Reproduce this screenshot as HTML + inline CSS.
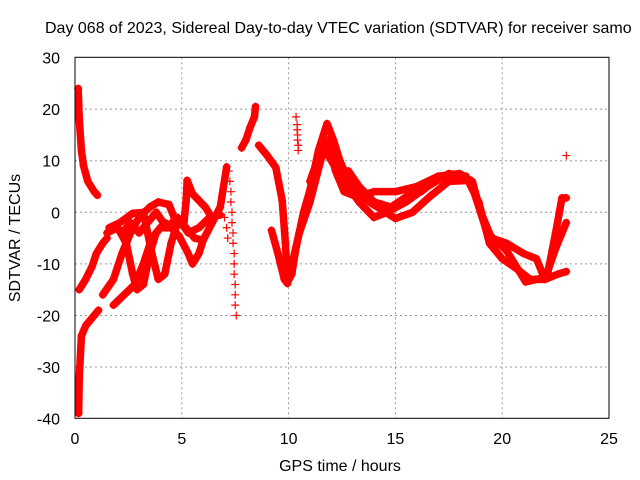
<!DOCTYPE html>
<html><head><meta charset="utf-8"><style>
body{margin:0;background:#fff;}
svg{display:block;font-family:"Liberation Sans",sans-serif;}
</style></head><body>
<svg id="chart" width="640" height="480" viewBox="0 0 640 480" xmlns="http://www.w3.org/2000/svg">
<rect width="640" height="480" fill="#fff"/>
<text x="45" y="33" font-size="16" fill="#000">Day 068 of 2023, Sidereal Day-to-day VTEC variation (SDTVAR) for receiver samo</text>
<text transform="translate(20,238) rotate(-90)" font-size="16" text-anchor="middle">SDTVAR / TECUs</text>
<text x="340" y="471" font-size="16" text-anchor="middle">GPS time / hours</text>
<g id="grid"></g><g id="ticks"></g><g id="marks"></g>
<rect x="75" y="57.3" width="534" height="361" fill="none" stroke="#000" stroke-width="1"/>
</svg>
<script>
const xTicks=[0,5,10,15,20,25];
const yTicks=[-40,-30,-20,-10,0,10,20,30];
const traceA=[[0.15,24],[0.2,18],[0.3,12],[0.4,9],[0.6,6],[0.9,4],[1.05,3.3]];
const traceB=[[0.17,-39],[0.2,-32],[0.3,-24],[0.5,-22],[0.8,-20.5],[1.1,-19]];
const traceC=[[0.2,-15],[0.5,-13],[0.8,-10.5],[1.0,-8],[1.3,-6],[1.5,-5]];
const traceD=[[1.3,-16],[1.8,-13],[2.2,-8],[2.6,-4],[3.0,-1],[3.5,1],[3.9,2],[4.4,1.5],[4.7,-1.6],[5.2,-3],[5.6,-5],[6.0,-5.4],[6.4,-2.2],[6.8,1],[7.1,8.8]];
const traceE=[[1.8,-18],[2.3,-16],[2.8,-14],[3.2,-10],[3.6,-5],[4.0,-3],[4.5,-3],[4.9,-4.8],[5.3,-8],[5.5,-10],[5.8,-8],[6.0,-5.4]];
const traceF=[[1.5,-4],[2.0,-3],[2.4,-6],[2.7,-12],[2.9,-15],[3.2,-14],[3.5,-8],[3.8,-4],[4.2,-2],[4.6,-3]];
const traceG=[[1.6,-3],[2.1,-2],[2.7,-0.2],[3.2,0],[3.6,-8],[3.9,-13],[4.2,-12],[4.5,-6],[4.8,-2],[5.1,-2],[5.2,2],[5.25,6.2],[5.5,3.6],[6.1,1],[6.4,-1],[6.8,-0.5]];
const traceH=[[2.2,-4],[2.6,-2],[3.0,-4],[3.4,-2],[3.8,0],[4.3,-3],[4.8,-1],[5.3,-4],[5.8,-3],[6.3,-1]];
const traceI=[[7.2,8],[7.25,6],[7.3,4],[7.3,2],[7.35,0],[7.35,-2],[7.4,-4],[7.4,-6],[7.45,-8],[7.45,-10],[7.45,-12],[7.5,-14],[7.5,-16],[7.5,-18],[7.55,-20],[7.0,-1],[7.1,-3],[7.15,-5]];
const traceJ=[[7.8,12.5],[8.0,14],[8.2,16.5],[8.4,18.5],[8.45,20.5]];
const traceK=[[8.6,13],[9.0,11],[9.4,8.7],[9.7,2.3],[9.85,-6],[9.95,-13.5],[10.15,-12],[10.35,-6.8],[10.7,0],[11.0,4.3],[11.4,12],[11.8,17.2],[12.1,14],[12.4,10],[13.0,4.3],[13.9,1.7],[15.0,-1.2],[15.8,0],[16.6,3],[17.5,6],[18.5,6.2],[19.3,-4],[20.2,-7.4],[21.1,-13.5],[22.1,-12.5],[22.5,-4],[22.8,2.8],[23.0,2.8]];
const traceL=[[9.2,-3.5],[9.5,-8],[9.8,-13],[9.95,-13.8],[10.5,-4],[11.0,2],[11.5,10],[11.8,14],[12.2,8],[12.6,4],[13.2,3],[14.0,4],[15.0,4],[16.0,5],[17.0,7],[18.0,7.5],[18.6,6],[19.0,0],[19.5,-5],[20.2,-6],[21.0,-8],[21.6,-9],[22.0,-13],[22.5,-7],[23.0,-2]];
const traceM=[[11.0,6],[11.6,13],[12.0,10],[12.6,6],[13.3,2],[14.0,-1],[14.6,0],[15.5,2],[16.5,5],[17.5,7.5],[18.3,7],[18.9,2],[19.4,-6],[20.0,-9],[20.7,-11],[21.3,-13],[22.0,-13],[22.6,-12],[23.0,-11.5]];
const traceN=[[12.8,8],[13.3,5],[14.0,2],[14.8,1],[15.5,3],[16.2,4],[16.8,6],[17.3,7]];
const sparseP=[[10.35,18.5],[10.4,17],[10.4,16],[10.42,15],[10.42,14],[10.45,13],[10.45,12],[23.0,11]];
const traces=[traceA,traceB,traceC,traceD,traceE,traceF,traceG,traceH,traceJ,traceK,traceL,traceM,traceN];
const traceNames=['trace-a','trace-b','trace-c','trace-d','trace-e','trace-f','trace-g','trace-h','trace-j','trace-k','trace-l','trace-m','trace-n'];
const X=t=>75+t*(534/25);
const Y=v=>212.3-v*(361/70);
const NS='http://www.w3.org/2000/svg';
const grid=document.getElementById('grid'),ticks=document.getElementById('ticks'),marks=document.getElementById('marks');
function mk(tag,attrs,parent){const e=document.createElementNS(NS,tag);for(const k in attrs)e.setAttribute(k,attrs[k]);parent.appendChild(e);return e;}
xTicks.forEach(t=>{
  if(t>0&&t<25){const g=mk('line',{x1:X(t),x2:X(t),y1:57.3,y2:418.3,stroke:'#999','stroke-dasharray':'2,3'},grid);
  
  }
  const l=mk('text',{x:X(t),y:444,'font-size':16,'text-anchor':'middle'},ticks);l.textContent=t;
  
  
});
yTicks.forEach(v=>{
  if(v>-40&&v<30){const g=mk('line',{x1:75,x2:609,y1:Y(v),y2:Y(v),stroke:'#999','stroke-dasharray':'2,3'},grid);
  
  }
  const l=mk('text',{x:60,y:Y(v)+6,'font-size':16,'text-anchor':'end'},ticks);l.textContent=v;
  
  
});
function plus(t,v,parent){const p=mk('path',{d:`M${X(t)-4},${Y(v)}h8M${X(t)},${Y(v)-4}v8`,stroke:'#f00','stroke-width':1.2},parent);
  
  }
traces.forEach((tr,i)=>{
  const g=mk('g',{},marks);
  
  
  const pl=mk('polyline',{points:tr.map(p=>X(p[0])+','+Y(p[1])).join(' '),fill:'none',stroke:'#f00','stroke-width':7.5,'stroke-linejoin':'round','stroke-linecap':'round'},g);
  
  
  tr.forEach(p=>plus(p[0],p[1],g));
});
const gi=mk('g',{},marks);


traceI.forEach(p=>plus(p[0],p[1],gi));
const gp=mk('g',{},marks);


sparseP.forEach(p=>plus(p[0],p[1],gp));
</script>
</body></html>
